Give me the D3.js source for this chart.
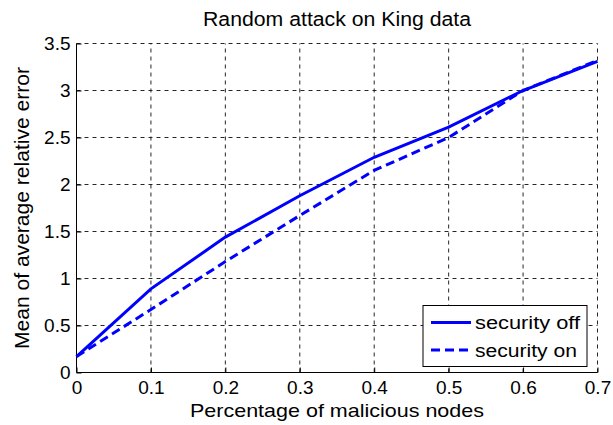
<!DOCTYPE html>
<html lang="en">
  <head>
    <meta charset="utf-8" />
    <title>Random attack on King data</title>
    <script type="text/javascript" src="https://d3js.org/d3.v7.min.js"></script>
    <style>
      body { margin: 0; background: #fff; }
      text { font-family: "Liberation Sans", Arial, sans-serif; fill: #000; }
    </style>
  </head>
  <body>
    <script type="text/javascript">
      // Data
      const xValues = [0, 0.1, 0.2, 0.3, 0.4, 0.5, 0.6, 0.7];
      const securityOff = [0.17, 0.89, 1.44, 1.88, 2.29, 2.61, 3.0, 3.31];
      const securityOn = [0.17, 0.67, 1.18, 1.67, 2.15, 2.5, 3.0, 3.32];
      const xTicks = [0, 0.1, 0.2, 0.3, 0.4, 0.5, 0.6, 0.7];
      const yTicks = [0, 0.5, 1, 1.5, 2, 2.5, 3, 3.5];
      const seriesNames = ["security off", "security on"];

      const WIDTH = 613;
      const HEIGHT = 425;
      const margin = { top: 43.5, right: 15.5, bottom: 52.5, left: 76.5 };
      const LINE_COLOR = "#0000ff";
      const GRID_COLOR = "#262626";
      const FONT = "Liberation Sans, Arial, sans-serif";

      const svg = d3
        .select("body")
        .append("svg")
        .attr("width", WIDTH)
        .attr("height", HEIGHT);

      const x = d3
        .scaleLinear()
        .domain([0, 0.7])
        .range([margin.left, WIDTH - margin.right]);
      const y = d3
        .scaleLinear()
        .domain([0, 3.5])
        .range([HEIGHT - margin.bottom, margin.top]);

      // grid (dashed)
      svg
        .append("g")
        .selectAll("line")
        .data(xTicks.slice(1))
        .enter()
        .append("line")
        .attr("x1", (d) => x(d))
        .attr("x2", (d) => x(d))
        .attr("y1", y(0))
        .attr("y2", y(3.5))
        .attr("stroke", GRID_COLOR)
        .attr("stroke-width", 1)
        .attr("stroke-dasharray", "4,4");

      svg
        .append("g")
        .selectAll("line")
        .data(yTicks.slice(1))
        .enter()
        .append("line")
        .attr("x1", x(0))
        .attr("x2", x(0.7))
        .attr("y1", (d) => y(d))
        .attr("y2", (d) => y(d))
        .attr("stroke", GRID_COLOR)
        .attr("stroke-width", 1)
        .attr("stroke-dasharray", "4,4");

      // axes
      const xAxis = svg
        .append("g")
        .attr("transform", "translate(0," + y(0) + ")")
        .call(
          d3.axisBottom(x).tickValues(xTicks).tickSize(-5).tickPadding(8)
            .tickFormat((d) => (d === 0 ? "0" : d3.format(".1f")(d)))
        );
      const yAxis = svg
        .append("g")
        .attr("transform", "translate(" + x(0) + ",0)")
        .call(
          d3.axisLeft(y).tickValues(yTicks).tickSize(-5).tickPadding(6)
            .tickFormat((d) => (Number.isInteger(d) ? d : d.toFixed(1)))
        );
      [xAxis, yAxis].forEach((g) => {
        g.attr("font-size", null).attr("font-family", null);
        g.selectAll("path").attr("stroke", "#000").attr("stroke-width", 1);
        g.selectAll("line").attr("stroke", "#000");
        g.selectAll("text")
          .style("font-size", "19px")
          .style("font-family", FONT);
      });
      xAxis.select(".domain").attr("d", "M" + x(0) + ",0H" + x(0.7));
      yAxis.select(".domain").attr("d", "M0," + y(0) + "V" + y(3.5));

      // lines
      const line = d3
        .line()
        .x((d, i) => x(xValues[i]))
        .y((d) => y(d));

      svg
        .append("path")
        .datum(securityOff)
        .attr("d", line)
        .attr("fill", "none")
        .attr("stroke", LINE_COLOR)
        .attr("stroke-width", 3);

      svg
        .append("path")
        .datum(securityOn)
        .attr("d", line)
        .attr("fill", "none")
        .attr("stroke", LINE_COLOR)
        .attr("stroke-width", 3)
        .attr("stroke-dasharray", "9,5");

      // titles
      svg
        .append("text")
        .attr("x", (x(0) + x(0.7)) / 2)
        .attr("y", 26)
        .attr("text-anchor", "middle")
        .style("font-size", "20px")
        .attr("textLength", 268)
        .attr("lengthAdjust", "spacingAndGlyphs")
        .text("Random attack on King data");

      svg
        .append("text")
        .attr("x", (x(0) + x(0.7)) / 2)
        .attr("y", 417)
        .attr("text-anchor", "middle")
        .style("font-size", "19px")
        .attr("textLength", 294)
        .attr("lengthAdjust", "spacingAndGlyphs")
        .text("Percentage of malicious nodes");

      svg
        .append("text")
        .attr("transform", "translate(29," + (y(0) + y(3.5)) / 2 + ") rotate(-90)")
        .attr("text-anchor", "middle")
        .style("font-size", "20px")
        .attr("textLength", 282)
        .attr("lengthAdjust", "spacingAndGlyphs")
        .text("Mean of average relative error");

      // legend
      const legend = svg.append("g").attr("transform", "translate(423,305.5)");
      legend
        .append("rect")
        .attr("width", 164)
        .attr("height", 61)
        .attr("fill", "#fff")
        .attr("stroke", "#000")
        .attr("stroke-width", 1);
      seriesNames.forEach((name, i) => {
        const ly = 17 + i * 27.5;
        legend
          .append("line")
          .attr("x1", 8)
          .attr("x2", 48)
          .attr("y1", ly)
          .attr("y2", ly)
          .attr("stroke", LINE_COLOR)
          .attr("stroke-width", 3)
          .attr("stroke-dasharray", i === 1 ? "9,5" : null);
        legend
          .append("text")
          .attr("x", 52)
          .attr("y", ly + 6.5)
          .style("font-size", "18px")
          .attr("textLength", i === 0 ? 105 : 102)
          .attr("lengthAdjust", "spacingAndGlyphs")
          .text(name);
      });
    </script>
  </body>
</html>
